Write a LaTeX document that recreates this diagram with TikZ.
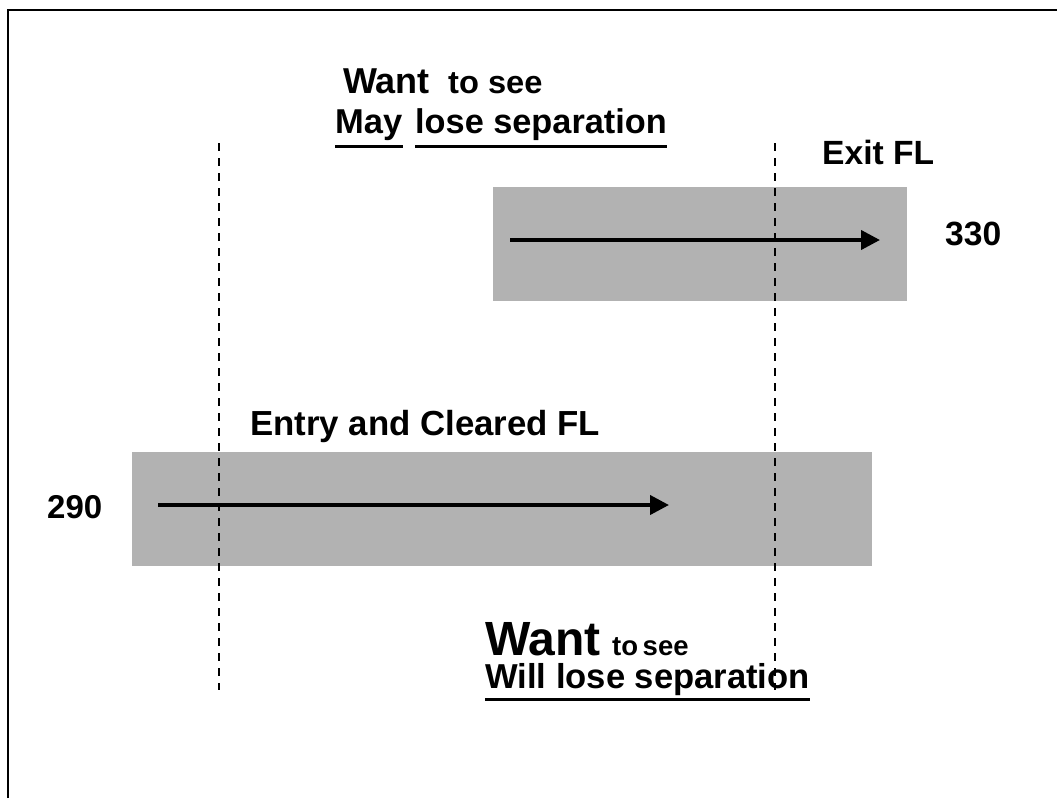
\documentclass[tikz,border=0pt]{standalone}
\usepackage{fontspec}
\setmainfont{Liberation Sans}
\usepackage{graphicx}
\usetikzlibrary{arrows.meta}
\definecolor{bandgray}{RGB}{178,178,178}
\newcommand{\txt}[3]{\fontsize{#1}{#1}\selectfont\bfseries\scalebox{#2}[1]{#3}}

\begin{document}
\begin{tikzpicture}[x=1pt, y=-1pt,
    band/.style={fill=bandgray, inner sep=0, minimum height=114pt},
    flow/.style={line width=4pt, -{Triangle[length=19pt,width=19pt]}},
    sector/.style={line width=2pt, dash pattern=on 8pt off 7pt},
    lbl/.style={anchor=base west, inner sep=0},
    uline/.style={line width=3pt}]
    \useasboundingbox (0,0) rectangle (1057,798);
    \draw[line width=2pt] (8,798) -- (8,10) -- (1057,10);
    % flight level bands
    \node[band, minimum width=414pt] (upper) at (700,244) {};
    \node[band, minimum width=740pt] (lower) at (502,509) {};
    % sector boundaries
    \coordinate (westtop) at (219,143);
    \coordinate (westbot) at (219,690);
    \coordinate (easttop) at (775,143);
    \coordinate (eastbot) at (775,690);
    \draw[sector] (westtop) -- (westbot);
    \draw[sector] (easttop) -- (eastbot);
    % trajectories
    \coordinate (upstart) at (510,240);
    \coordinate (upend) at (880,240);
    \coordinate (lostart) at (158,505);
    \coordinate (loend) at (669,505);
    \draw[flow] (upstart) -- (upend);
    \draw[flow] (lostart) -- (loend);
    % labels
    \node[lbl] (wanttop) at (343,93) {\txt{36}{1}{Want}};
    \node[lbl] (seetop) at (448,93) {\txt{32}{1.02}{to see}};
    \node[lbl] (may) at (335,133) {\txt{34.5}{1}{May}};
    \node[lbl] (losetop) at (415,133) {\txt{34.3}{1}{lose separation}};
    \node[lbl] (exitfl) at (822,164) {\txt{33.6}{1}{Exit FL}};
    \node[lbl] (fl330) at (945,245) {\txt{33.6}{1}{330}};
    \node[lbl] (entryfl) at (250,435) {\txt{34.8}{1}{Entry and Cleared FL}};
    \node[lbl] (fl290) at (47,518) {\txt{33}{1}{290}};
    \node[lbl] (wantbot) at (485,655) {\txt{48}{1}{Want}};
    \node[lbl] (seebot) at (612,655) {\txt{27.5}{1}{to\,see}};
    \node[lbl] (will) at (485,688) {\txt{34.6}{1}{Will lose separation}};
    \draw[uline] ([yshift=-13pt]may.base west) -- ([yshift=-13pt]may.base east);
    \draw[uline] ([yshift=-13pt]losetop.base west) -- ([yshift=-13pt]losetop.base east);
    \draw[uline] ([yshift=-11pt]will.base west) -- ([yshift=-11pt]will.base east);
\end{tikzpicture}
\end{document}
